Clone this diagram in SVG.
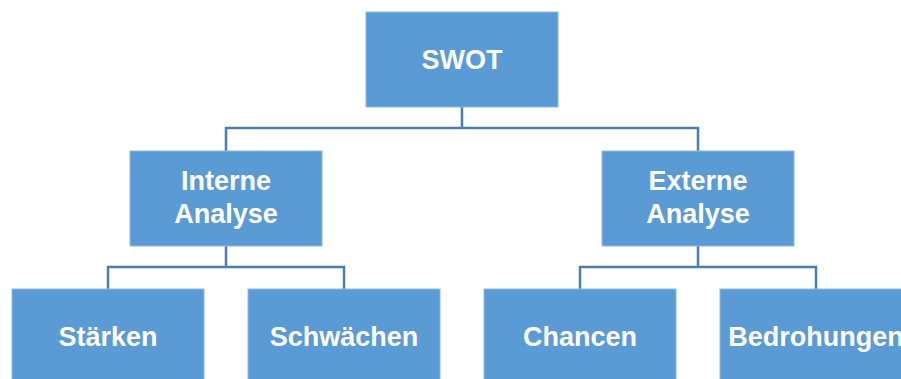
<svg xmlns="http://www.w3.org/2000/svg" width="901" height="379" viewBox="0 0 901 379">
<style>
.box{fill:#5B9BD5;stroke:#8DB9E3;stroke-width:1}
.lbl{font-family:"Liberation Sans",Arial,sans-serif;font-weight:bold;font-size:27px;fill:#ffffff;text-anchor:middle}
.con{fill:none;stroke:#4A7DB0;stroke-width:2.5}
</style>
<rect width="901" height="379" fill="#ffffff"/>
<g id="connectors">
<path class="con" d="M462,107 V128 M226,151 V128 H698 V151"/>
<path class="con" d="M226,246 V267 M108,289 V267 H344 V289"/>
<path class="con" d="M698,246 V267 M580,289 V267 H816 V289"/>
</g>
<g id="swot"><rect class="box" x="366" y="12" width="192" height="95"/><text class="lbl" x="462" y="69">SWOT</text></g>
<g id="interne"><rect class="box" x="130" y="151" width="192" height="95"/><text class="lbl" x="226" y="190">Interne</text><text class="lbl" x="226" y="223">Analyse</text></g>
<g id="externe"><rect class="box" x="602" y="151" width="192" height="95"/><text class="lbl" x="698" y="190">Externe</text><text class="lbl" x="698" y="223">Analyse</text></g>
<g id="staerken"><rect class="box" x="12" y="289" width="192" height="95"/><text class="lbl" x="108" y="346">Stärken</text></g>
<g id="schwaechen"><rect class="box" x="248" y="289" width="192" height="95"/><text class="lbl" x="344" y="346">Schwächen</text></g>
<g id="chancen"><rect class="box" x="484" y="289" width="192" height="95"/><text class="lbl" x="580" y="346">Chancen</text></g>
<g id="bedrohungen"><rect class="box" x="720" y="289" width="192" height="95"/><text class="lbl" x="816" y="346">Bedrohungen</text></g>
</svg>
